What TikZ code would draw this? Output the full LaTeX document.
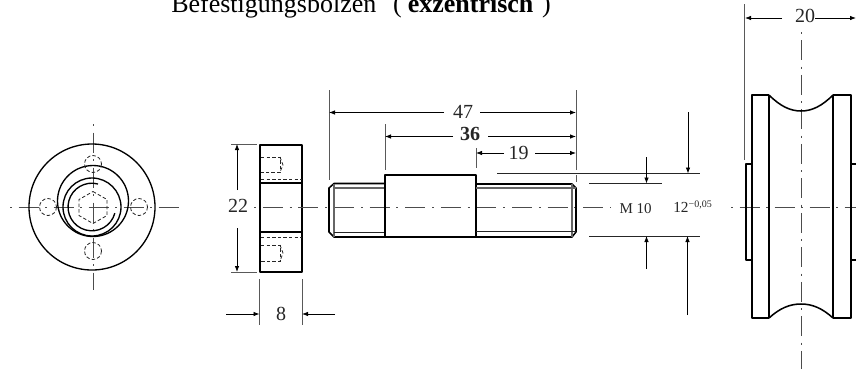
\documentclass[tikz,border=0pt]{standalone}
\usepackage{fontspec}
\setmainfont{Liberation Serif}
\usetikzlibrary{arrows.meta}
\tikzset{
  body/.style={line width=1.15pt,black,line join=round},
  round part/.style={line width=1pt,black},
  thin part/.style={line width=0.6pt,black!85},
  thread end/.style={line width=0.8pt,black!60},
  hidden/.style={line width=0.6pt,black!85,dash pattern=on 2.6pt off 1.6pt},
  axis/.style={line width=0.7pt,black!70,dash pattern=on 15pt off 4.875pt on 1.5pt off 4.875pt,dash phase=19.875pt},
  axis long/.style={line width=0.7pt,black!70,dash pattern=on 15pt off 5.1pt on 1.5pt off 5.1pt,dash phase=20.1pt},
  axis tall/.style={line width=0.7pt,black!70,dash pattern=on 15pt off 4.69pt on 1.5pt off 4.69pt,dash phase=19.69pt},
  ext/.style={line width=0.7pt,black!65},
  dim/.style={line width=0.6pt,black,-{Latex[length=4.5pt,width=3.4pt]}},
  dimtext/.style={font=\fontsize{15}{17}\selectfont,inner sep=0pt,text=black!85},
}
\begin{document}
\begin{tikzpicture}[x=0.75pt,y=-0.75pt]
\useasboundingbox (0,0) rectangle (856,369);
\clip (0,0) rectangle (856,369);
% title
\node[anchor=base west,inner sep=0pt,font=\fontsize{19.5}{22}\selectfont] (title) at (171,12) {Befestigungsbolzen\hspace{4.4mm}(\hspace{1.6mm}\textbf{exzentrisch}\hspace{2.3mm})};

% --- end view
\draw[axis] (10,207) -- (184,207);
\draw[axis] (93,124) -- (93,290);
\draw[round part] (92,207) circle (63);
\draw[round part] (93,201) circle (35.5);
\draw[round part] (92,207) circle (29);
\draw[round part] (98,184) arc (-75:-345:23.8);
\draw[hidden] (93,164) circle (8.5);
\draw[hidden] (93,251) circle (8.5);
\draw[hidden] (48,207) circle (8.5);
\draw[hidden] (139,207) circle (8.5);
\draw[hidden] (93,191.5) -- (107,199.5) -- (107,215.5) -- (93,223.5) -- (79,215.5) -- (79,199.5) -- cycle;

% --- nut view
\draw[body] (260,145) rectangle (302,272);
\draw[body] (260,183) -- (302,183);
\draw[body] (260,232) -- (302,232);
\draw[hidden] (261,179) -- (302,179);
\draw[hidden] (261,237) -- (302,237);
\draw[hidden] (261,157) -- (280,157) -- (280,172) -- (261,172);
\draw[hidden] (280,157) -- (283,165) -- (280,172);
\draw[hidden] (261,245) -- (280,245) -- (280,261) -- (261,261);
\draw[hidden] (280,245) -- (283,253) -- (280,261);

% --- bolt
\draw[axis long] (254,207) -- (611,207);
\draw[body] (385,183.5) -- (334,183.5) -- (329,188) -- (329,232) -- (334,237) -- (385,237);
\draw[thread end] (334,184) -- (334,237);
\draw[thread end] (334,188) -- (385,188);
\draw[thin part] (334,232) -- (385,232);
\draw[body] (385,175) rectangle (476,237);
\draw[body] (476,184) -- (572,184) -- (576,188) -- (576,232) -- (572,237) -- (476,237);
\draw[thread end] (572,184) -- (572,237);
\draw[thread end] (476,188) -- (576,188);
\draw[thin part] (476,231.5) -- (576,231.5);

% --- roller
\draw[axis tall] (801,32) -- (801,369);
\draw[axis] (731,207) -- (856,207);
\draw[body] (752,164) -- (746,164) -- (746,260) -- (752,260);
\draw[body] (856,164) -- (851,164);
\draw[body] (856,260) -- (851,260);
\draw[body] (769,95) -- (752,95) -- (752,318) -- (769,318);
\draw[body] (833,95) -- (851,95) -- (851,318) -- (833,318);
\draw[body] (769,95) -- (769,318);
\draw[body] (833,95) -- (833,318);
\draw[body] (769,95) .. controls (780,106) and (790,111) .. (801,111) .. controls (812,111) and (822,106) .. (833,95);
\draw[body] (769,318) .. controls (780,308) and (790,304) .. (801,304) .. controls (812,304) and (822,308) .. (833,318);

% --- extension lines
\draw[ext] (231,144) -- (257,144);
\draw[ext] (231,272) -- (257,272);
\draw[ext] (259.5,279) -- (259.5,325);
\draw[ext] (302,279) -- (302,325);
\draw[ext] (329,90) -- (329,180);
\draw[ext] (385,124) -- (385,170);
\draw[ext] (476,148) -- (476,168);
\draw[ext] (576,90) -- (576,170);
\draw[ext] (576,175) -- (576,182);
\draw[ext] (744.5,4) -- (744.5,160);
\draw[thin part] (497,173.5) -- (700,173.5);
\draw[thin part] (589,183.5) -- (662,183.5);
\draw[thin part] (589,236) -- (700,236);

% --- dimensions
\node[dimtext] (d22) at (238,206) {22};
\draw[dim] (237,190) -- (237,144);
\draw[dim] (237,228) -- (237,272);
\node[dimtext] (d8) at (281,314) {8};
\draw[dim] (226,314) -- (259.5,314);
\draw[dim] (335,314) -- (302,314);
\node[dimtext] (d47) at (463,112) {47};
\draw[dim] (444,112.5) -- (329,112.5);
\draw[dim] (480,112.5) -- (576,112.5);
\node[dimtext,font=\fontsize{15}{17}\selectfont\bfseries] (d36) at (470,134) {36};
\draw[dim] (453,136.5) -- (385,136.5);
\draw[dim] (488,136.5) -- (576,136.5);
\node[dimtext] (d19) at (518.5,153) {19};
\draw[dim] (504,153) -- (476,153);
\draw[dim] (535,153) -- (576,153);
\node[dimtext] (d20) at (805,16) {20};
\draw[dim] (782,18) -- (745,18);
\draw[dim] (815,18) -- (856,18);
\draw[dim] (688,112) -- (688,173.5);
\draw[dim] (646.5,157) -- (646.5,183.5);
\draw[dim] (646.5,269) -- (646.5,236);
\draw[dim] (687.5,315) -- (687.5,236);
\node[dimtext,anchor=base west,font=\fontsize{11.25}{13}\selectfont] (m10) at (619.3,213) {M 10};
\node[dimtext,anchor=base west,font=\fontsize{11.5}{13}\selectfont] (d12) at (673,212.7) {12\raisebox{4pt}{\fontsize{7.5}{8}\selectfont −0,05}};
\end{tikzpicture}
\end{document}
